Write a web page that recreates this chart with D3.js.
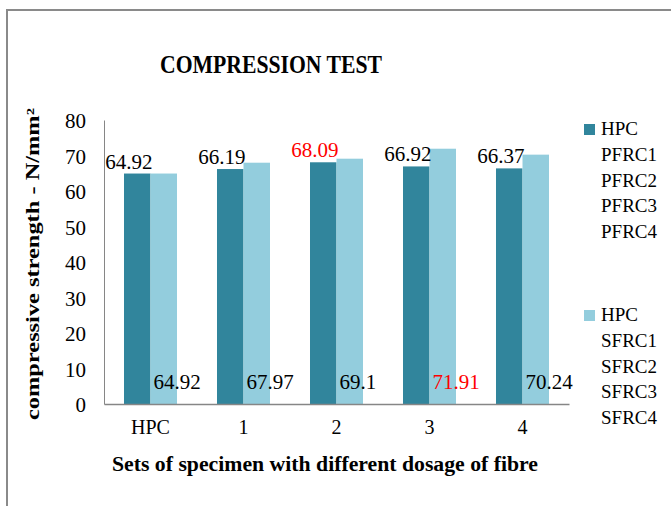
<!DOCTYPE html>
<html>
<head>
<meta charset="utf-8">
<script src="https://cdn.jsdelivr.net/npm/d3@7"></script>
<style>
  html, body { margin: 0; padding: 0; background: #fff; }
  svg { display: block; }
</style>
</head>
<body>
<script>
// ---- data ----
const categories = ["HPC", "1", "2", "3", "4"];
const pfrcValues = [64.92, 66.19, 68.09, 66.92, 66.37];
const sfrcValues = [64.92, 67.97, 69.1, 71.91, 70.24];
const yTicks = [0, 10, 20, 30, 40, 50, 60, 70, 80];
const pfrcLegend = ["HPC", "PFRC1", "PFRC2", "PFRC3", "PFRC4"];
const sfrcLegend = ["HPC", "SFRC1", "SFRC2", "SFRC3", "SFRC4"];
const highlightPfrc = ["2"];   // category whose PFRC label is red
const highlightSfrc = ["3"];   // category whose SFRC label is red

const W = 671, H = 506;
const darkColor = "#31859C", lightColor = "#93CDDD";
const serif = "'Liberation Serif', 'Times New Roman', serif";

const svg = d3.select("body").append("svg").attr("width", W).attr("height", H);

// outer chart border
svg.append("rect").attr("x", 7).attr("y", 10).attr("width", 720).attr("height", 560)
  .attr("fill", "none").attr("stroke", "#8a8a8a").attr("stroke-width", 2);

const x = d3.scaleBand().domain(categories).range([104, 569]).paddingInner(0.43).paddingOuter(0.215);
const y = d3.scaleLinear().domain([0, 80]).range([404, 120]);

// bars
const g = svg.append("g");
g.selectAll("rect.p").data(categories).join("rect").attr("class", "p")
  .attr("x", d => x(d)).attr("width", x.bandwidth() / 2)
  .attr("y", (d, i) => y(pfrcValues[i])).attr("height", (d, i) => y(0) - y(pfrcValues[i]))
  .attr("fill", darkColor);
g.selectAll("rect.s").data(categories).join("rect").attr("class", "s")
  .attr("x", d => x(d) + x.bandwidth() / 2).attr("width", x.bandwidth() / 2)
  .attr("y", (d, i) => y(sfrcValues[i])).attr("height", (d, i) => y(0) - y(sfrcValues[i]))
  .attr("fill", lightColor);

// axes
const yAxis = d3.axisLeft(y).tickValues(yTicks).tickSize(0).tickPadding(18);
const ya = svg.append("g").attr("transform", "translate(104,0)").call(yAxis);
ya.select(".domain").attr("stroke", "#868686").attr("stroke-width", 1);
ya.selectAll("text").attr("font-family", serif).attr("font-size", 21).attr("fill", "#000").attr("dy", "0.36em");

const xAxis = d3.axisBottom(x).tickSize(0).tickPadding(16);
const xa = svg.append("g").attr("transform", "translate(0,404)").call(xAxis);
xa.select(".domain").attr("stroke", "#868686").attr("stroke-width", 1.5);
xa.selectAll("text").attr("font-family", serif).attr("font-size", 20).attr("fill", "#000");

// value labels
g.selectAll("text.pl").data(categories).join("text").attr("class", "pl")
  .attr("x", d => x(d) + x.bandwidth() / 2 + 2)
  .attr("y", (d, i) => y(pfrcValues[i]) - 5)
  .attr("text-anchor", "end")
  .attr("font-family", serif).attr("font-size", 21)
  .attr("fill", d => highlightPfrc.includes(d) ? "#FF0000" : "#000")
  .text((d, i) => pfrcValues[i]);
g.selectAll("text.sl").data(categories).join("text").attr("class", "sl")
  .attr("x", d => x(d) + x.bandwidth() / 2 + 3)
  .attr("y", y(0) - 15)
  .attr("text-anchor", "start")
  .attr("font-family", serif).attr("font-size", 21)
  .attr("fill", d => highlightSfrc.includes(d) ? "#FF0000" : "#000")
  .text((d, i) => sfrcValues[i]);

// title
svg.append("text").attr("x", 271).attr("y", 73).attr("text-anchor", "middle")
  .attr("font-family", serif).attr("font-weight", "bold").attr("font-size", 25)
  .attr("textLength", 222).attr("lengthAdjust", "spacingAndGlyphs")
  .text("COMPRESSION TEST");

// axis titles
svg.append("text").attr("x", 325).attr("y", 471).attr("text-anchor", "middle")
  .attr("font-family", serif).attr("font-weight", "bold").attr("font-size", 20)
  .attr("textLength", 426).attr("lengthAdjust", "spacingAndGlyphs")
  .text("Sets of specimen with different dosage of fibre");

svg.append("text").attr("transform", "translate(39,264) rotate(-90)").attr("text-anchor", "middle")
  .attr("font-family", serif).attr("font-weight", "bold").attr("font-size", 18)
  .attr("textLength", 312).attr("lengthAdjust", "spacingAndGlyphs")
  .text("compressive strength - N/mm²");

// legend
const legendGroups = [
  { lines: pfrcLegend, color: darkColor, y0: 135 },
  { lines: sfrcLegend, color: lightColor, y0: 321 }
];
const lg = svg.append("g");
legendGroups.forEach(grp => {
  lg.append("rect").attr("x", 584).attr("y", grp.y0 - 11).attr("width", 11).attr("height", 11).attr("fill", grp.color);
  const t = lg.append("text").attr("font-family", serif).attr("font-size", 19).attr("fill", "#000");
  t.selectAll("tspan").data(grp.lines).join("tspan")
    .attr("x", 601).attr("y", (d, i) => grp.y0 + i * 25.8).text(d => d);
});
</script>
</body>
</html>
